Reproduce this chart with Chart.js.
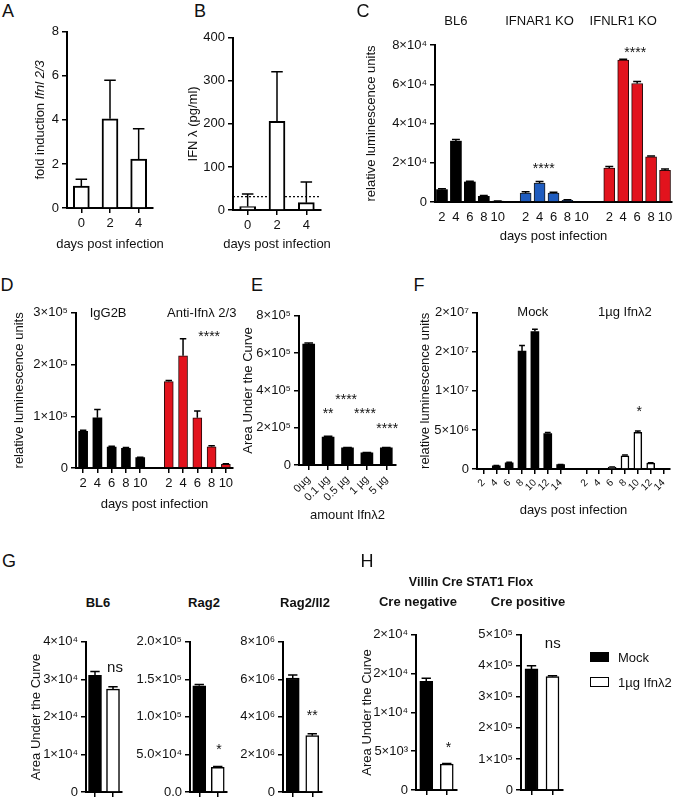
<!DOCTYPE html>
<html>
<head>
<meta charset="utf-8">
<script src="https://cdn.jsdelivr.net/npm/chart.js@4.4.1/dist/chart.umd.min.js"></script>
<style>
body{margin:0;background:#fff;font-family:"Liberation Sans",Arial,sans-serif;color:#111}
#fig{position:relative;width:675px;height:800px;overflow:hidden;background:#fff}
#fig canvas{position:absolute}
.t{position:absolute;transform:translate(-50%,-50%);line-height:1;white-space:nowrap}
.key{position:absolute;border:1.5px solid #000;box-sizing:border-box}
</style>
</head>
<body>
<div id="fig"></div>
<script>
// ---------- data ----------
// A: fold induction Ifnl 2/3
const aDays = ['0', '2', '4']
const aFold = [1.0, 4.05, 2.22]
const aFoldErr = [0.3, 1.75, 1.38]
const aTicks = ['0', '2', '4', '6', '8']
const aYTitle = [{text: 'fold induction '}, {text: 'Ifnl 2/3', italic: true}]

// B: IFN lambda (pg/ml)
const bDays = ['0', '2', '4']
const bIfn = [8, 206, 17]
const bIfnErr = [29, 115, 48]
const bLimit = 31
const bTicks = ['0', '100', '200', '300', '400']

// C: luminescence per mouse strain
const cDays = ['2', '4', '6', '8', '10']
const cGroups = ['BL6', 'IFNAR1 KO', 'IFNLR1 KO']
const cBL6 = [6300, 31000, 10200, 2900, 300]
const cBL6Err = [500, 800, 400, 400, 200]
const cIFNAR = [4600, 9700, 4500, 800, 0]
const cIFNARErr = [600, 700, 500, 300, 0]
const cIFNLR = [17300, 72300, 60400, 23000, 16200]
const cIFNLRErr = [800, 500, 1000, 500, 600]
const cTicks = ['0', '2×10⁴', '4×10⁴', '6×10⁴', '8×10⁴']

// D: antibody treatment
const dDays = ['2', '4', '6', '8', '10']
const dGroups = ['IgG2B', 'Anti-Ifnλ 2/3']
const dIgG = [71000, 97000, 40500, 38000, 20000]
const dIgGErr = [2000, 16000, 1500, 1500, 1000]
const dAnti = [167000, 217000, 97000, 41000, 7000]
const dAntiErr = [2000, 33000, 13000, 2000, 1000]
const dTicks = ['0', '1×10⁵', '2×10⁵', '3×10⁵']

// E: dose
const eDoses = ['0µg', '0.1 µg', '0.5 µg', '1 µg', '5 µg']
const eAuc = [648000, 150000, 92000, 65000, 92000]
const eAucErr = [6000, 4000, 2000, 2000, 2000]
const eTicks = ['0', '2×10⁵', '4×10⁵', '6×10⁵', '8×10⁵']

// F: mock vs 1µg
const fDays = ['2', '4', '6', '8', '10', '12', '14']
const treat = ['Mock', '1µg Ifnλ2']
const fMock = [0, 420000, 800000, 15100000, 17600000, 4550000, 550000]
const fMockErr = [0, 40000, 60000, 700000, 300000, 120000, 40000]
const fIfn = [0, 0, 250000, 1700000, 4700000, 760000, 0]
const fIfnErr = [0, 0, 20000, 100000, 170000, 50000, 0]
const fTicks = ['0', '5×10⁶', '1×10⁷', '2×10⁷', '2×10⁷']

// G / H: area under the curve, mock vs 1µg
const gBL6 = [31100, 27400], gBL6Err = [1000, 600]
const gBL6Ticks = ['0', '1×10⁴', '2×10⁴', '3×10⁴', '4×10⁴']
const gRag2 = [141500, 33000], gRag2Err = [1500, 800]
const gRag2Ticks = ['0.0', '5.0×10⁴', '1.0×10⁵', '1.5×10⁵', '2.0×10⁵']
const gRag2Il2 = [6070000, 3000000], gRag2Il2Err = [160000, 100000]
const gRag2Il2Ticks = ['0', '2×10⁶', '4×10⁶', '6×10⁶', '8×10⁶']
const hNeg = [14000, 3330], hNegErr = [400, 100]
const hNegTicks = ['0', '5×10³', '1×10⁴', '2×10⁴', '2×10⁴']
const hPos = [390000, 365000], hPosErr = [10000, 3000]
const hPosTicks = ['0', '1×10⁵', '2×10⁵', '3×10⁵', '4×10⁵', '5×10⁵']

// ---------- helpers ----------
const FONT = '"Liberation Sans", Arial, sans-serif'
Chart.defaults.font.family = FONT
Chart.defaults.font.size = 13
Chart.defaults.color = '#111'
Chart.defaults.animation = false
Chart.defaults.events = []

const fig = document.getElementById('fig')
const RED = '#e2131d', BLUE = '#1f5cbf'

// groups joined with one empty slot between them
function joinGroups(groups) {
    let out = []
    groups.forEach((g, k) => {
        if (k) out.push(null)
        out.push(...g)
    })
    return out
}
function only(groups, k) {
    return joinGroups(groups.map((g, j) => j === k ? g : g.map(() => null)))
}

// error bars, dotted limit line, text marks, axis titles
const extras = {
    id: 'extras',
    beforeDatasetsDraw(chart, args, o) {
        if (o.limit == null) return
        let ctx = chart.ctx, a = chart.chartArea
        let y = chart.scales.y.getPixelForValue(o.limit)
        ctx.save()
        ctx.strokeStyle = '#000'
        ctx.lineWidth = 1.2
        ctx.setLineDash([2, 2])
        ctx.beginPath()
        ctx.moveTo(a.left, y)
        ctx.lineTo(a.right, y)
        ctx.stroke()
        ctx.restore()
    },
    afterDatasetsDraw(chart, args, o) {
        let ctx = chart.ctx, ys = chart.scales.y, xs = chart.scales.x
        ctx.save()
        ctx.strokeStyle = '#000'
        ctx.lineWidth = 1.5
        chart.data.datasets.forEach((ds, di) => {
            if (!ds.errors) return
            chart.getDatasetMeta(di).data.forEach((bar, i) => {
                let v = ds.data[i], e = ds.errors[i]
                if (v == null || !e) return
                let top = ys.getPixelForValue(v + e)
                let half = bar.width * 0.36
                ctx.beginPath()
                ctx.moveTo(bar.x, bar.y)
                ctx.lineTo(bar.x, top)
                ctx.moveTo(bar.x - half, top)
                ctx.lineTo(bar.x + half, top)
                ctx.stroke()
            })
        })
        ctx.fillStyle = '#111'
        ctx.textAlign = 'center'
        ctx.textBaseline = 'middle';
        (o.notes || []).forEach(n => {
            ctx.font = (n.bold ? 'bold ' : '') + (n.size || 13) + 'px ' + FONT
            ctx.fillText(n.text, xs.getPixelForValue(n.at), ys.getPixelForValue(n.v))
        })
        ctx.restore()
    },
    afterDraw(chart, args, o) {
        let ctx = chart.ctx, a = chart.chartArea
        ctx.save()
        ctx.fillStyle = '#111'
        ctx.textBaseline = 'middle'
        if (o.xTitle) {
            ctx.font = '13px ' + FONT
            ctx.textAlign = 'center'
            ctx.fillText(o.xTitle, (a.left + a.right) / 2, chart.scales.x.bottom - 6.5)
        }
        if (o.yRuns) {
            ctx.translate(chart.scales.y.left + 6.5, (a.top + a.bottom) / 2)
            ctx.rotate(-Math.PI / 2)
            ctx.textAlign = 'left'
            let fonts = o.yRuns.map(r => (r.italic ? 'italic ' : '') + '13px ' + FONT)
            let total = 0
            let widths = o.yRuns.map((r, i) => {
                ctx.font = fonts[i]
                let w = ctx.measureText(r.text).width
                total += w
                return w
            })
            let cx = -total / 2
            o.yRuns.forEach((r, i) => {
                ctx.font = fonts[i]
                ctx.fillText(r.text, cx, 0)
                cx += widths[i]
            })
        }
        ctx.restore()
    }
}

// box: chart area edges in page pixels, plus where the axis titles sit
function makeChart(box, o) {
    let padTop = box.padTop || 10, padR = 10, padB = 2
    let yW = box.yTitle ? box.l - Math.round(box.yTitle - 6.5) : (box.yW || 50)
    let xH = box.xTitle ? Math.round(box.xTitle - box.b + 6.5) : 9
    let c = document.createElement('canvas')
    c.width = yW + box.r - box.l + padR
    c.height = padTop + box.b - box.t + xH + padB
    c.style.left = (box.l - yW) + 'px'
    c.style.top = (box.t - padTop) + 'px'
    fig.appendChild(c)
    let labels = o.labels
    return new Chart(c, {
        type: 'bar',
        data: {labels: labels, datasets: o.datasets},
        options: {
            responsive: false,
            maintainAspectRatio: false,
            layout: {padding: {left: 0, top: padTop, right: padR, bottom: padB}},
            plugins: {
                legend: {display: false},
                tooltip: {enabled: false},
                extras: {notes: o.notes, limit: o.limit, yRuns: o.yRuns, xTitle: o.xTitle}
            },
            scales: {
                x: {
                    z: 1,
                    offset: true,
                    border: {display: true, color: '#000', width: 2},
                    grid: {
                        drawOnChartArea: false, offset: false, tickLength: 5, lineWidth: 1.5,
                        color: ctx => (o.noXTicks || labels[ctx.index] === '') ? 'rgba(0,0,0,0)' : '#000',
                        tickColor: ctx => (o.noXTicks || labels[ctx.index] === '') ? 'rgba(0,0,0,0)' : '#000'
                    },
                    ticks: {
                        display: o.showX !== false, autoSkip: false, padding: 3, color: '#111',
                        minRotation: o.rot || 0, maxRotation: o.rot || 0,
                        font: {size: o.xSize || 13}
                    },
                    afterFit: s => { s.height = xH }
                },
                y: {
                    min: 0, max: o.max,
                    border: {display: true, color: '#000', width: 2},
                    grid: {drawOnChartArea: false, tickLength: 5, lineWidth: 1.5, color: '#000'},
                    ticks: {stepSize: o.step, padding: 3, color: '#111', callback: (v, i) => o.yLabels[i]},
                    title: {display: !!o.yTitle, text: o.yTitle || '', padding: 0, color: '#111', font: {size: 13, lineHeight: 1}},
                    afterFit: s => { s.width = yW }
                }
            }
        },
        plugins: [extras]
    })
}

function bars(data, errors, fill, thick, extra) {
    return Object.assign({
        data: data, errors: errors, backgroundColor: fill, borderColor: '#000',
        borderWidth: fill === '#fff' ? 2 : 0, barThickness: thick, grouped: false
    }, extra || {})
}

function addText(text, x, y, size, bold) {
    let d = document.createElement('div')
    d.className = 't'
    d.textContent = text
    d.style.left = x + 'px'
    d.style.top = y + 'px'
    d.style.fontSize = size + 'px'
    if (bold) d.style.fontWeight = 'bold'
    fig.appendChild(d)
}

// ---------- panels ----------
makeChart({l: 67, t: 31, r: 153, b: 208, yTitle: 40, xTitle: 244}, {
    labels: aDays, max: 8, step: 2, yLabels: aTicks,
    xTitle: 'days post infection', yRuns: aYTitle,
    datasets: [bars(aFold, aFoldErr, '#fff', 16)]
})

makeChart({l: 233, t: 37, r: 321, b: 210, yTitle: 193, xTitle: 244}, {
    labels: bDays, max: 400, step: 100, yLabels: bTicks,
    xTitle: 'days post infection', yTitle: 'IFN λ (pg/ml)', limit: bLimit,
    datasets: [bars(bIfn, bIfnErr, '#fff', 16)]
})

let cAll = [cBL6, cIFNAR, cIFNLR], cErrAll = [cBL6Err, cIFNARErr, cIFNLRErr]
makeChart({l: 435, t: 45, r: 672, b: 202, yTitle: 371, xTitle: 236, padTop: 38}, {
    labels: joinGroups([cDays, cDays, cDays]).map(v => v ?? ''),
    max: 80000, step: 20000, yLabels: cTicks, noXTicks: true,
    xTitle: 'days post infection', yTitle: 'relative luminescence units',
    datasets: [
        bars(only(cAll, 0), only(cErrAll, 0), '#000', 11),
        bars(only(cAll, 1), only(cErrAll, 1), BLUE, 11, {borderWidth: 1, borderColor: '#1a1a1a'}),
        bars(only(cAll, 2), only(cErrAll, 2), RED, 11, {borderWidth: 1, borderColor: '#2a0a0a'})
    ],
    notes: [
        {at: 1, v: 92200, text: cGroups[0]},
        {at: 7, v: 92200, text: cGroups[1]},
        {at: 13, v: 92200, text: cGroups[2]},
        {at: 7.3, v: 16700, text: '****', size: 14},
        {at: 13.86, v: 75900, text: '****', size: 14}
    ]
})

let dAll = [dIgG, dAnti], dErrAll = [dIgGErr, dAntiErr]
makeChart({l: 76, t: 312, r: 233, b: 468, yTitle: 19, xTitle: 504}, {
    labels: joinGroups([dDays, dDays]).map(v => v ?? ''),
    max: 300000, step: 100000, yLabels: dTicks,
    xTitle: 'days post infection', yTitle: 'relative luminescence units',
    datasets: [
        bars(only(dAll, 0), only(dErrAll, 0), '#000', 9),
        bars(only(dAll, 1), only(dErrAll, 1), RED, 9, {borderWidth: 1, borderColor: '#2a0a0a'})
    ],
    notes: [
        {at: 1.75, v: 298000, text: dGroups[0]},
        {at: 8.31, v: 298000, text: dGroups[1]},
        {at: 8.83, v: 253800, text: '****', size: 14}
    ]
})

makeChart({l: 299, t: 315, r: 396, b: 465, yTitle: 248, xTitle: 515}, {
    labels: eDoses, max: 800000, step: 200000, yLabels: eTicks, rot: 45, xSize: 11,
    xTitle: 'amount Ifnλ2', yTitle: 'Area Under the Curve',
    datasets: [bars(eAuc, eAucErr, '#000', 12)],
    notes: [
        {at: 1, v: 274700, text: '**', size: 14},
        {at: 1.93, v: 349300, text: '****', size: 14},
        {at: 2.9, v: 274700, text: '****', size: 14},
        {at: 4.05, v: 194700, text: '****', size: 14}
    ]
})

let fAll = [fMock, fIfn], fErrAll = [fMockErr, fIfnErr]
makeChart({l: 477, t: 312, r: 670, b: 469, yTitle: 425, xTitle: 510}, {
    labels: joinGroups([fDays, fDays]).map(v => v ?? ''),
    max: 20000000, step: 5000000, yLabels: fTicks, rot: 45, xSize: 10,
    xTitle: 'days post infection', yTitle: 'relative luminescence units',
    datasets: [
        bars(only(fAll, 0), only(fErrAll, 0), '#000', 8),
        bars(only(fAll, 1), only(fErrAll, 1), '#fff', 8, {borderWidth: 1.5})
    ],
    notes: [
        {at: 3.84, v: 20000000, text: treat[0]},
        {at: 10.99, v: 20000000, text: treat[1]},
        {at: 12.1, v: 7220000, text: '*', size: 14}
    ]
})

function pair(values, errs) {
    return [bars(values, errs, ['#000', '#fff'], 13, {borderWidth: 1.5})]
}

makeChart({l: 86, t: 641, r: 122, b: 792, yTitle: 36}, {
    labels: treat, showX: false, max: 40000, step: 10000, yLabels: gBL6Ticks,
    yTitle: 'Area Under the Curve', datasets: pair(gBL6, gBL6Err),
    notes: [{at: 1.11, v: 33100, text: 'ns', size: 15}]
})
makeChart({l: 190, t: 641, r: 227, b: 792, yW: 56}, {
    labels: treat, showX: false, max: 200000, step: 50000, yLabels: gRag2Ticks,
    datasets: pair(gRag2, gRag2Err),
    notes: [{at: 1.07, v: 56000, text: '*', size: 14}]
})
makeChart({l: 283, t: 641, r: 322, b: 792, yW: 48}, {
    labels: treat, showX: false, max: 8000000, step: 2000000, yLabels: gRag2Il2Ticks,
    datasets: pair(gRag2Il2, gRag2Il2Err),
    notes: [{at: 1, v: 4030000, text: '**', size: 14}]
})
makeChart({l: 416, t: 634, r: 457, b: 790, yTitle: 367}, {
    labels: treat, showX: false, max: 20000, step: 5000, yLabels: hNegTicks,
    yTitle: 'Area Under the Curve', datasets: pair(hNeg, hNegErr),
    notes: [{at: 1.08, v: 5385, text: '*', size: 14}]
})
makeChart({l: 521, t: 634, r: 563, b: 790, yW: 50}, {
    labels: treat, showX: false, max: 500000, step: 100000, yLabels: hPosTicks,
    datasets: pair(hPos, hPosErr),
    notes: [{at: 1.01, v: 471000, text: 'ns', size: 15}]
})

// ---------- panel letters, titles, legend ----------
addText('A', 8, 11, 18)
addText('B', 200, 11, 18)
addText('C', 363, 11, 18)
addText('D', 7, 285, 18)
addText('E', 257, 285, 18)
addText('F', 419, 285, 18)
addText('G', 9, 561, 18)
addText('H', 367, 561, 18)

addText('BL6', 98, 602, 13, true)
addText('Rag2', 204, 602, 13, true)
addText('Rag2/Il2', 305, 602, 13, true)
addText('Villin Cre STAT1 Flox', 471, 582, 12.5, true)
addText('Cre negative', 418, 601, 13, true)
addText('Cre positive', 528, 601, 13, true)

let k1 = document.createElement('div')
k1.className = 'key'
Object.assign(k1.style, {left: '590px', top: '652px', width: '19px', height: '10px', background: '#000'})
fig.appendChild(k1)
let k2 = document.createElement('div')
k2.className = 'key'
Object.assign(k2.style, {left: '590px', top: '677px', width: '19px', height: '10px', background: '#fff'})
fig.appendChild(k2)
let t1 = document.createElement('div')
t1.className = 't'
t1.textContent = treat[0]
Object.assign(t1.style, {left: '618px', top: '657px', fontSize: '13px', transform: 'translate(0,-50%)'})
fig.appendChild(t1)
let t2 = document.createElement('div')
t2.className = 't'
t2.textContent = treat[1]
Object.assign(t2.style, {left: '618px', top: '682px', fontSize: '13px', transform: 'translate(0,-50%)'})
fig.appendChild(t2)
</script>
</body>
</html>
